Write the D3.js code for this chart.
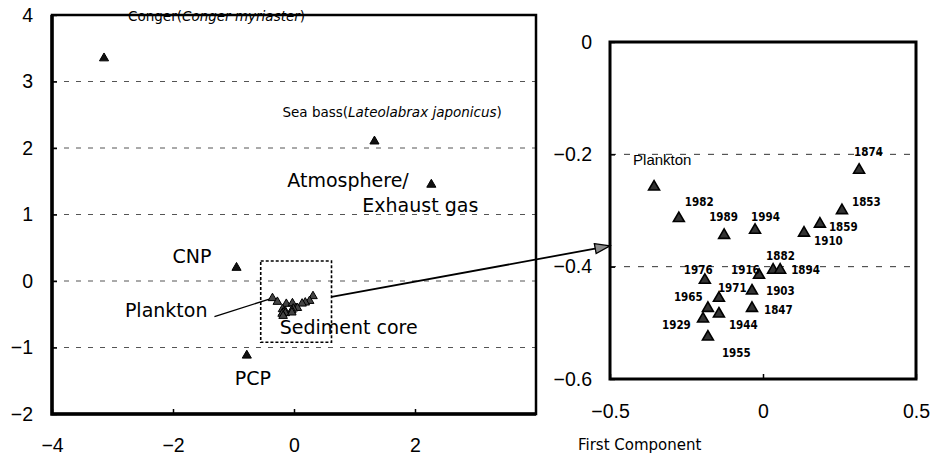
<!DOCTYPE html>
<meta charset="utf-8"/>
<style>
  body { margin: 0; background: #fff; }
  text { fill: #000; }
</style>
<svg width="934" height="460"></svg>

<script src="https://cdn.jsdelivr.net/npm/d3@7"></script>
<script>

// ---- data ----

// source samples (left panel)
var sourceNames = ["Conger", "Sea bass", "Atmosphere/Exhaust gas", "CNP", "PCP"]
var sourceX = [-3.14, 1.33, 2.27, -0.95, -0.78]
var sourceY = [3.35, 2.10, 1.45, 0.20, -1.12]

// plankton
var planktonX = -0.356
var planktonY = -0.258

// sediment core layers
var coreYears = [1874, 1982, 1853, 1859, 1910, 1989, 1994, 1882, 1894, 1916, 1976, 1971, 1903, 1965, 1944, 1847, 1929, 1955]
var coreX = [0.314, -0.275, 0.258, 0.186, 0.134, -0.127, -0.026, 0.033, 0.056, -0.013, -0.190, -0.144, -0.036, -0.180, -0.144, -0.036, -0.196, -0.180]
var coreY = [-0.228, -0.314, -0.300, -0.324, -0.340, -0.344, -0.335, -0.406, -0.406, -0.415, -0.424, -0.456, -0.443, -0.474, -0.484, -0.474, -0.493, -0.525]

// ticks and grid
var leftXTicks = [-4, -2, 0, 2]
var leftYTicks = [4, 3, 2, 1, 0, -1, -2]
var leftGrid = [3, 2, 1, 0, -1]
var rightXTicks = [-0.5, 0, 0.5]
var rightYTicks = [0, -0.2, -0.4, -0.6]
var rightGrid = [-0.2, -0.4]

// enlarged region drawn in left panel: x0, x1, y0, y1
var zoomBox = [-0.55, 0.62, -0.92, 0.30]
// where the arrow leaves the box (left coords) and where it hits the right panel (right coords)
var arrowFrom = [0.62, -0.24]
var arrowTo = [-0.5, -0.363]

var xLabel = "First Component"

// ---- layout (pixel offsets of labels from their points) ----
var yearOffset = {
  1874: [-5, -14], 1982: [6, -12], 1853: [10, -5], 1859: [9, 7], 1910: [10, 12],
  1989: [-15, -14], 1994: [-4, -9], 1882: [-7, -10], 1894: [11, 4], 1916: [-28, -1],
  1976: [-21, -6], 1971: [-1, -6], 1903: [14, 4], 1965: [-34, -7], 1944: [10, 15],
  1847: [12, 6], 1929: [-41, 10], 1955: [14, 20]
}

var svg = d3.select("svg")

var bigFont = "DejaVu Sans"
var tickFont = "Liberation Sans, Arial, sans-serif"

// scales
var xL = d3.scaleLinear().domain([-4, 4]).range([52, 536])
var yL = d3.scaleLinear().domain([-2, 4]).range([414, 15])
var xR = d3.scaleLinear().domain([-0.5, 0.5]).range([610, 916])
var yR = d3.scaleLinear().domain([-0.6, 0]).range([379, 42])

var tri = d3.symbol().type(d3.symbolTriangle)

svg.append("defs").append("marker")
    .attr("id", "head")
    .attr("markerUnits", "userSpaceOnUse")
    .attr("markerWidth", 20)
    .attr("markerHeight", 14)
    .attr("refX", 16)
    .attr("refY", 6)
    .attr("orient", "auto")
  .append("path")
    .attr("d", "M1,1 L16,6 L1,11 Z")
    .attr("fill", "#8a8a8a")
    .attr("stroke", "#000")
    .attr("stroke-width", 1.3)

// ---- grid lines ----
svg.selectAll(".gl").data(leftGrid).enter().append("line")
    .attr("x1", xL(-4)).attr("x2", xL(4))
    .attr("y1", d => yL(d)).attr("y2", d => yL(d))
    .attr("stroke", "#555").attr("stroke-width", 1)
    .attr("stroke-dasharray", "5,7")

svg.selectAll(".gr").data(rightGrid).enter().append("line")
    .attr("x1", xR(-0.5)).attr("x2", xR(0.5))
    .attr("y1", d => yR(d)).attr("y2", d => yR(d))
    .attr("stroke", "#333").attr("stroke-width", 1)
    .attr("stroke-dasharray", "6,8")

// ---- axes ----
function styleAxis(g) {
  g.select(".domain").remove()
  g.selectAll(".tick line").attr("stroke", "#000").attr("stroke-width", 1.5)
  g.selectAll(".tick text")
    .style("font-family", tickFont)
    .style("font-size", "19.5px")
    .attr("fill", "#000")
}

var fmtR = d => d === 0 ? "0" : d3.format(".1f")(d)

svg.append("g").attr("transform", "translate(" + xL(-4) + ",0)")
    .call(d3.axisLeft(yL).tickValues(leftYTicks).tickFormat(d3.format("d"))
      .tickSizeInner(-5).tickSizeOuter(0).tickPadding(19))
    .call(styleAxis)

svg.append("g").attr("transform", "translate(0," + yL(-2) + ")")
    .call(d3.axisBottom(xL).tickValues(leftXTicks).tickFormat(d3.format("d"))
      .tickSizeInner(-5).tickSizeOuter(0).tickPadding(24))
    .call(styleAxis)

svg.append("g").attr("transform", "translate(" + xR(-0.5) + ",0)")
    .call(d3.axisLeft(yR).tickValues(rightYTicks).tickFormat(fmtR)
      .tickSizeInner(-5).tickSizeOuter(0).tickPadding(18))
    .call(styleAxis)

svg.append("g").attr("transform", "translate(0," + yR(-0.6) + ")")
    .call(d3.axisBottom(xR).tickValues(rightXTicks).tickFormat(fmtR)
      .tickSizeInner(-5).tickSizeOuter(0).tickPadding(25))
    .call(styleAxis)

// frames
svg.append("rect")
    .attr("x", xL(-4)).attr("y", yL(4))
    .attr("width", xL(4) - xL(-4)).attr("height", yL(-2) - yL(4))
    .attr("fill", "none").attr("stroke", "#000").attr("stroke-width", 2.5)
svg.append("path")
    .attr("d", "M" + xL(-4) + "," + yL(4) + "V" + yL(-2) + "H" + xL(4))
    .attr("fill", "none").attr("stroke", "#000").attr("stroke-width", 3.5)

svg.append("rect")
    .attr("x", xR(-0.5)).attr("y", yR(0))
    .attr("width", xR(0.5) - xR(-0.5)).attr("height", yR(-0.6) - yR(0))
    .attr("fill", "none").attr("stroke", "#000").attr("stroke-width", 3)

// x axis title
svg.append("text")
    .attr("x", 578).attr("y", 450)
    .style("font-family", bigFont).style("font-size", "15px")
    .text(xLabel)

// ---- left panel ----

// dotted box around the core cluster
svg.append("rect")
    .attr("x", xL(zoomBox[0])).attr("y", yL(zoomBox[3]))
    .attr("width", xL(zoomBox[1]) - xL(zoomBox[0]))
    .attr("height", yL(zoomBox[2]) - yL(zoomBox[3]))
    .attr("fill", "none").attr("stroke", "#000")
    .attr("stroke-width", 1.6).attr("stroke-dasharray", "3,2")

// arrow to the enlarged panel
svg.append("line")
    .attr("x1", xL(arrowFrom[0])).attr("y1", yL(arrowFrom[1]))
    .attr("x2", xR(arrowTo[0])).attr("y2", yR(arrowTo[1]))
    .attr("stroke", "#000").attr("stroke-width", 1.8)
    .attr("marker-end", "url(#head)")

// plankton leader line
var pxL = xL(planktonX), pyL = yL(planktonY)
svg.append("line")
    .attr("x1", pxL - 58).attr("y1", pyL + 18.5)
    .attr("x2", pxL).attr("y2", pyL)
    .attr("stroke", "#000").attr("stroke-width", 1.3)

// cluster points (left)
var clusterX = [planktonX].concat(coreX)
var clusterY = [planktonY].concat(coreY)
svg.selectAll(".cl").data(d3.range(clusterX.length)).enter().append("path")
    .attr("transform", i => "translate(" + xL(clusterX[i]) + "," + yL(clusterY[i]) + ")")
    .attr("d", tri.size(32))
    .attr("fill", "#444").attr("stroke", "#000").attr("stroke-width", 1)

svg.selectAll(".src").data(d3.range(sourceX.length)).enter().append("path")
    .attr("transform", i => "translate(" + xL(sourceX[i]) + "," + yL(sourceY[i]) + ")")
    .attr("d", tri.size(36))
    .attr("fill", "#111").attr("stroke", "#000").attr("stroke-width", 1)

function pt(i) { return [xL(sourceX[i]), yL(sourceY[i])] }

// species labels: normal + italic
function speciesLabel(i, common, latin, dx, dy) {
  var p = pt(i)
  var t = svg.append("text")
      .attr("x", p[0] + dx).attr("y", p[1] + dy)
      .style("font-family", bigFont).style("font-size", "13.5px")
  t.append("tspan").text(common + "(")
  t.append("tspan").style("font-style", "italic").text(latin)
  t.append("tspan").text(")")
}
speciesLabel(0, "Conger", "Conger myriaster", 24, -37)
speciesLabel(1, "Sea bass", "Lateolabrax japonicus", -92, -24)

function bigLabel(x, y, s, anchor) {
  svg.append("text")
      .attr("x", x).attr("y", y)
      .attr("text-anchor", anchor || "start")
      .style("font-family", bigFont).style("font-size", "19px")
      .text(s)
}
var atm = sourceNames[2].split("/")
bigLabel(pt(2)[0] - 144, pt(2)[1] + 2, atm[0] + "/")
bigLabel(pt(2)[0] - 69, pt(2)[1] + 27, atm[1])
bigLabel(pt(3)[0] - 25, pt(3)[1] - 5, sourceNames[3], "end")
bigLabel(pt(4)[0] + 6, pt(4)[1] + 30, sourceNames[4], "middle")
bigLabel(pxL - 65, pyL + 19, "Plankton", "end")
bigLabel(xL(zoomBox[0]) + 19, yL(zoomBox[2]) - 8, "Sediment core")

// ---- right panel ----
svg.selectAll(".cr").data(d3.range(coreX.length)).enter().append("path")
    .attr("transform", i => "translate(" + xR(coreX[i]) + "," + yR(coreY[i]) + ")")
    .attr("d", tri.size(52))
    .attr("fill", "#333").attr("stroke", "#000").attr("stroke-width", 1.6)

svg.append("path")
    .attr("transform", "translate(" + xR(planktonX) + "," + yR(planktonY) + ")")
    .attr("d", tri.size(52))
    .attr("fill", "#333").attr("stroke", "#000").attr("stroke-width", 1.6)

svg.selectAll(".yr").data(d3.range(coreYears.length)).enter().append("text")
    .attr("x", i => xR(coreX[i]) + yearOffset[coreYears[i]][0])
    .attr("y", i => yR(coreY[i]) + yearOffset[coreYears[i]][1])
    .style("font-family", "DejaVu Sans Condensed, DejaVu Sans")
    .style("font-stretch", "condensed")
    .style("font-weight", "bold")
    .style("font-size", "11.5px")
    .text(i => coreYears[i])

svg.append("text")
    .attr("x", xR(planktonX) - 21).attr("y", yR(planktonY) - 22)
    .style("font-family", tickFont).style("font-size", "15px")
    .text("Plankton")

</script>
